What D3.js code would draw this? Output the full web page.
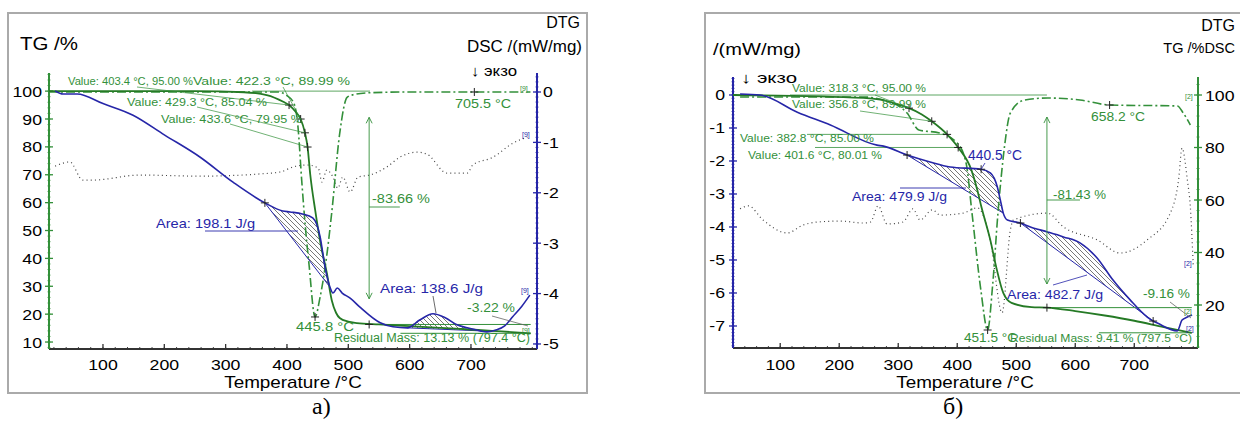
<!DOCTYPE html>
<html>
<head>
<meta charset="utf-8">
<script src="https://cdn.jsdelivr.net/npm/d3@7"></script>
<style>
body { margin: 0; background: #fff; }
svg text { font-family: "Liberation Sans", Arial, sans-serif; }
</style>
</head>
<body>
<script>
// ---- values: [temperature °C, value] ----
// panel a)
var tgA = [[12, 100], [250, 100], [330, 99.6], [367, 98.6], [394, 96.2], [403.4, 95], [414, 92.6], [422.3, 89.99],
    [429.3, 85.04], [433.6, 79.95], [438, 70], [446, 57.3], [455, 45], [465, 34.8], [473, 25], [480, 20.5],
    [486, 18.6], [500, 17.3], [514, 16.8], [550, 16.3], [600, 15.7], [650, 15.1], [700, 14.5], [750, 13.8], [797.4, 13.13]];
var dscA = [[22, 0.02], [35, -0.04], [58, -0.04], [100, -0.23], [149, -0.46], [200, -0.85], [258, -1.29], [312, -1.79],
    [364, -2.2], [393, -2.36], [405, -2.38], [425, -2.42], [442, -2.5], [454, -2.87], [462, -3.47], [470, -3.87],
    [475, -3.99], [482, -3.89], [490, -3.99], [503, -4.09], [519, -4.27], [552, -4.58], [573, -4.66], [596, -4.68],
    [617, -4.52], [638, -4.4], [658, -4.48], [677, -4.62], [694, -4.68], [715, -4.74], [726, -4.76], [742, -4.72],
    [755, -4.64], [768, -4.46], [783, -4.25], [796, -4.03]];
var dtgA = [[12, 0], [385, 0], [400, -0.4], [411, -1.2], [418, -3.9], [424, -9.8], [430, -15], [436, -19.2],
    [445.8, -25], [454, -22.8], [465, -18.1], [473, -13.4], [486, -4.6], [498, -0.6], [508, -0.3], [530, -0.1],
    [600, 0], [797, 0]];
var dotA = [[22, 73.1], [46, 74.6], [67, 68.1], [84, 68.1], [160, 69.9], [258, 69.5], [356, 70.3], [389, 71],
    [410, 72.8], [433, 73.5], [451, 72.4], [457, 67.4], [465, 71.7], [475, 69.2], [483, 65.2], [491, 69.2],
    [503, 63.8], [516, 69.2], [535, 69.9], [563, 72.8], [584, 76.3], [612, 78.1], [628, 77.4], [661, 70.6],
    [694, 70.6], [703, 73.5], [736, 76.3], [769, 81.4], [792, 83.5]];

// panel б)
var tgB = [[20, 100], [241, 98.9], [270, 98.2], [298, 96.5], [318.3, 95], [340, 92.6], [356.8, 89.99], [382.8, 85],
    [401.6, 80.01], [424, 71.4], [434, 63.8], [441, 57.3], [456, 44.8], [466, 34.5], [478, 24.6], [492, 20.8],
    [526, 19.2], [552, 19], [600, 17.7], [650, 16], [700, 14], [750, 11.6], [797.5, 9.41]];
var dscB = [[32, 0.03], [66, 0], [129, -0.52], [185, -0.91], [264, -1.52], [275, -1.55], [315, -1.82], [354, -2.03],
    [388, -2.18], [440.5, -2.25], [456, -2.36], [468, -2.79], [473, -3.18], [478, -3.58], [485, -3.79], [507, -3.88],
    [524, -4], [553, -4.15], [580, -4.3], [608, -4.48], [637, -4.94], [664, -5.61], [693, -6.21], [722, -6.73],
    [732, -6.85], [739, -6.91], [773, -7.15], [781, -6.82], [790, -6.73], [798, -6.67]];
var dtgB = [[32, -0.2], [241, -0.2], [280, -0.6], [315, -1.8], [335, -3.5], [370, -3.8], [400, -4.8], [415, -6.8],
    [425, -11.8], [440, -19.5], [451.5, -23.5], [460, -19], [469, -11.8], [474, -8.5], [480, -5.2], [490, -1.8],
    [514, -0.5], [553, -0.3], [608, -0.5], [658.2, -1], [773, -1.1], [783, -1.8], [795, -3]];
var dotB = [[32, -3.45], [46, -3.36], [71, -3.79], [112, -4.18], [139, -3.94], [163, -3.85], [202, -3.82],
    [241, -3.88], [253, -3.85], [266, -3.36], [281, -3.91], [308, -3.85], [325, -3.45], [337, -3.79], [358, -3.48],
    [371, -3.64], [410, -3.58], [434, -3.42], [456, -4.39], [476, -6.6], [490, -4.09], [495, -3.79], [553, -3.58],
    [580, -4], [637, -4.39], [676, -4.79], [722, -4.39], [761, -3.58], [775, -2.58], [781, -1.61], [790, -2.58],
    [795, -3.39], [800, -5.2]];

// tick labels
var tempTicks = [100, 200, 300, 400, 500, 600, 700];
var tgTicksA = [10, 20, 30, 40, 50, 60, 70, 80, 90, 100];
var dscTicksA = [0, -1, -2, -3, -4, -5];
var dscTicksB = [0, -1, -2, -3, -4, -5, -6, -7];
var tgTicksB = [20, 40, 60, 80, 100];

var GREEN = "#33903a", TGGREEN = "#257a25", BLUE = "#2626a8", DOT = "#444";

var svg = d3.select("body").append("svg")
    .attr("width", 1240)
    .attr("height", 426);

var defs = svg.append("defs");
defs.append("pattern")
    .attr("id", "hatch")
    .attr("patternUnits", "userSpaceOnUse")
    .attr("width", 5).attr("height", 5)
    .append("path")
    .attr("d", "M-1,-1L6,6M-1,4L1,6M4,-1L6,1")
    .attr("stroke", "#555").attr("stroke-width", 0.8);

function txt(g, x, y, s, o) {
    o = o || {};
    var t = g.append("text")
        .attr("transform", "translate(" + x + "," + y + ") scale(" + (o.sx || 1) + ",1)")
        .attr("font-size", o.size || 11.5)
        .attr("fill", o.fill || "#000")
        .attr("text-anchor", o.anchor || "start")
        .text(s);
    if (o.w) t.attr("textLength", o.w).attr("lengthAdjust", "spacingAndGlyphs");
    if (o.family) t.style("font-family", o.family);
    return t;
}
function line(g, x1, y1, x2, y2, color, w) {
    g.append("line").attr("x1", x1).attr("y1", y1).attr("x2", x2).attr("y2", y2)
        .attr("stroke", color).attr("stroke-width", w || 0.8);
}
function cross(g, x, y, color) {
    g.append("path").attr("d", "M" + (x - 4) + "," + y + "H" + (x + 4) + "M" + x + "," + (y - 4) + "V" + (y + 4))
        .attr("stroke", color || "#222").attr("stroke-width", 1);
}
function arrow(g, x, y1, y2, color) {
    line(g, x, y1, x, y2, color, 0.9);
    g.append("path").attr("d", "M" + (x - 3) + "," + (y1 + 6) + "L" + x + "," + y1 + "L" + (x + 3) + "," + (y1 + 6))
        .attr("fill", "none").attr("stroke", color).attr("stroke-width", 0.9);
    g.append("path").attr("d", "M" + (x - 3) + "," + (y2 - 6) + "L" + x + "," + y2 + "L" + (x + 3) + "," + (y2 - 6))
        .attr("fill", "none").attr("stroke", color).attr("stroke-width", 0.9);
}
function interp(data, t) {
    var i = d3.bisector(function (d) { return d[0]; }).left(data, t);
    if (i <= 0) return data[0][1];
    if (i >= data.length) return data[data.length - 1][1];
    var a = data[i - 1], b = data[i];
    return a[1] + (b[1] - a[1]) * (t - a[0]) / (b[0] - a[0]);
}
function vAxis(g, x, scale, ticks, minorStep, color, labelX, anchor) {
    var d = scale.domain();
    var r = scale.range();
    line(g, x, r[0], x, r[1], color, 2);
    var lo = Math.ceil(d[0] / minorStep), hi = Math.floor(d[1] / minorStep);
    for (var k = lo; k <= hi; k++) {
        var yy = scale(k * minorStep);
        line(g, x - 1.5, yy, x + 1.5, yy, color, 0.8);
    }
    ticks.forEach(function (v) {
        line(g, x - 4, scale(v), x + 4, scale(v), color, 1.3);
        txt(g, labelX, scale(v) + 5.5, String(v), {size: 15, sx: 1.18, anchor: anchor});
    });
}
function hAxis(g, y, scale, title, titleX) {
    var r = scale.range();
    line(g, r[0], y, r[1], y, "#333", 2);
    for (var t = 20; t <= 800; t += 20) {
        line(g, scale(t), y, scale(t), y - 2, "#333", 0.9);
    }
    tempTicks.forEach(function (t) {
        line(g, scale(t), y, scale(t), y - 5, "#333", 1.3);
        txt(g, scale(t), 370, String(t), {size: 15, sx: 1.18, anchor: "middle"});
    });
    txt(g, titleX, 388, title, {size: 16, sx: 1.18, anchor: "middle"});
}
function curve(g, data, x, y, color, w, dash) {
    var gen = d3.line().x(function (d) { return x(d[0]); }).y(function (d) { return y(d[1]); })
        .curve(d3.curveMonotoneX);
    var p = g.append("path").attr("d", gen(data)).attr("fill", "none")
        .attr("stroke", color).attr("stroke-width", w);
    if (dash) p.attr("stroke-dasharray", dash);
    return gen;
}
function hatch(g, data, t0, t1, x, y) {
    var sub = data.filter(function (d) { return d[0] >= t0 && d[0] <= t1; });
    var gen = d3.line().x(function (d) { return x(d[0]); }).y(function (d) { return y(d[1]); })
        .curve(d3.curveMonotoneX);
    g.append("path").attr("d", gen(sub) + "Z").attr("fill", "url(#hatch)").attr("stroke", "none");
    var a = sub[0], b = sub[sub.length - 1];
    line(g, x(a[0]), y(a[1]), x(b[0]), y(b[1]), BLUE, 1);
}

// ================= panel a) =================
var ga = svg.append("g");
ga.append("rect").attr("x", 8).attr("y", 13).attr("width", 579).attr("height", 380)
    .attr("fill", "none").attr("stroke", "#aaa").attr("stroke-width", 2);

var xA = d3.scaleLinear().domain([12, 808]).range([49, 537.2]);
var yTgA = d3.scaleLinear().domain([7.5, 106.5]).range([349, 73]);
var yDscA = d3.scaleLinear().domain([-5.1, 0.377]).range([349, 73]);
var yDtgA = d3.scaleLinear().domain([-28.56, 2.11]).range([349, 73]);

hAxis(ga, 349, xA, "Temperature /°C", 293);
vAxis(ga, 49, yTgA, tgTicksA, 2, GREEN, 42, "end");
vAxis(ga, 537, yDscA, dscTicksA, 0.1, BLUE, 543, "start");

txt(ga, 20, 50, "TG /%", {size: 18, w: 58});
txt(ga, 580, 28, "DTG", {size: 16, anchor: "end"});
txt(ga, 467, 52, "DSC /(mW/mg)", {size: 16, w: 115});
txt(ga, 471, 76, "↓ экзо", {size: 15, w: 46});

// hatched peak areas
hatch(ga, dscA, 364, 470, xA, yDscA);
hatch(ga, dscA, 596, 715, xA, yDscA);

// reference lines of the annotations
line(ga, 252, yTgA(100), 370, yTgA(100), GREEN, 0.8);
line(ga, xA(534), yTgA(16.3), xA(797.4), yTgA(16.3), GREEN, 1);
line(ga, xA(585), yTgA(13.13), xA(797.4), yTgA(13.13), GREEN, 1);

curve(ga, dotA, xA, yTgA, DOT, 1.2, "1,3.2");
curve(ga, dtgA, xA, yDtgA, GREEN, 1.6, "9,3,2,3");
curve(ga, tgA, xA, yTgA, TGGREEN, 1.8);
curve(ga, dscA, xA, yDscA, BLUE, 1.6);

// mass-loss step
arrow(ga, xA(534), yTgA(90.6), yTgA(25.5), GREEN);
line(ga, xA(534), 207, xA(584), 207, GREEN, 0.9);
txt(ga, 372, 203, "-83.66 %", {size: 13, fill: GREEN, w: 58});

// value markers on TG
var valuesA = [[403.4, 95.00], [422.3, 89.99], [429.3, 85.04], [433.6, 79.95]];
valuesA.forEach(function (v) { cross(ga, xA(v[0]), yTgA(v[1])); });
line(ga, 137, 87, xA(403.4), yTgA(95), GREEN, 0.7);
line(ga, 283, 87, xA(422.3), yTgA(89.99), GREEN, 0.7);
line(ga, 197, 107, xA(429.3), yTgA(85.04), GREEN, 0.7);
line(ga, 230, 124, xA(433.6), yTgA(79.95), GREEN, 0.7);
txt(ga, 68, 85, "Value: 403.4 °C, 95.00 %", {fill: GREEN, w: 125});
txt(ga, 193, 85, "Value: 422.3 °C, 89.99 %", {fill: GREEN, w: 157});
txt(ga, 127, 106, "Value: 429.3 °C, 85.04 %", {fill: GREEN, w: 140});
txt(ga, 161, 123, "Value: 433.6 °C, 79.95 %", {fill: GREEN, w: 141});

cross(ga, xA(364), yDscA(interp(dscA, 364)), "#222");
cross(ga, xA(445.8), yDtgA(-25), "#222");
cross(ga, xA(705.5), yDtgA(0), "#222");
cross(ga, xA(534), yTgA(16.3), "#222");
txt(ga, 455, 108, "705.5 °C", {size: 13, fill: GREEN, w: 56});
txt(ga, 296, 331, "445.8 °C", {size: 13.5, fill: GREEN, w: 58});

line(ga, 205, 231, 298, 231, BLUE, 0.9);
txt(ga, 156, 228, "Area: 198.1 J/g", {size: 13, fill: BLUE, w: 99});
line(ga, 433, 296, 436, 313, "#444", 0.8);
txt(ga, 380, 293, "Area: 138.6 J/g", {size: 13.5, fill: BLUE, w: 103});

line(ga, 492, 316, 528, 326, "#666", 0.8);
txt(ga, 467, 312, "-3.22 %", {size: 13, fill: GREEN, w: 48});
txt(ga, 334, 342, "Residual Mass: 13.13 % (797.4 °C)", {size: 12, fill: GREEN, w: 196});

txt(ga, 520, 91, "[9]", {size: 7, fill: GREEN});
txt(ga, 522, 137, "[9]", {size: 7, fill: BLUE});
txt(ga, 521, 293, "[9]", {size: 7, fill: BLUE});
txt(ga, 522, 333, "[9]", {size: 7, fill: GREEN});

txt(ga, 312, 414, "a)", {size: 24, family: "'Liberation Serif', 'DejaVu Serif', serif"});

// ================= panel б) =================
var gb = svg.append("g");
gb.append("rect").attr("x", 705).attr("y", 13).attr("width", 560).attr("height", 380)
    .attr("fill", "none").attr("stroke", "#aaa").attr("stroke-width", 2);

var xB = d3.scaleLinear().domain([20, 808]).range([733, 1198]);
var yDscB = d3.scaleLinear().domain([-7.667, 0.545]).range([348, 77]);
var yTgB = d3.scaleLinear().domain([3.62, 106.86]).range([348, 77]);
var yDtgB = d3.scaleLinear().domain([-25.3, 1.8]).range([348, 77]);

hAxis(gb, 348, xB, "Temperature /°C", 965);
vAxis(gb, 733, yDscB, dscTicksB, 0.1, BLUE, 725, "end");
vAxis(gb, 1198, yTgB, tgTicksB, 4, GREEN, 1205, "start");

txt(gb, 713, 55, "/(mW/mg)", {size: 16, w: 88});
txt(gb, 1235, 31, "DTG", {size: 16, anchor: "end"});
txt(gb, 1235, 53, "TG /%DSC", {size: 14.5, anchor: "end"});
txt(gb, 741, 83, "↓ экзо", {size: 15, w: 56});

hatch(gb, dscB, 315, 478, xB, yDscB);
hatch(gb, dscB, 507, 732, xB, yDscB);

line(gb, 790, yTgB(100), xB(552), yTgB(100), GREEN, 0.8);
line(gb, 807, yTgB(85), xB(382.8), yTgB(85), GREEN, 0.8);
line(gb, 815, yTgB(80.01), xB(401.6), yTgB(80.01), GREEN, 0.8);
line(gb, xB(552), yTgB(19), xB(797.5), yTgB(19), GREEN, 1);
line(gb, xB(640), yTgB(9.41), xB(797.5), yTgB(9.41), GREEN, 1);

curve(gb, dotB, xB, yDscB, DOT, 1.2, "1,3.2");
curve(gb, dtgB, xB, yDtgB, GREEN, 1.6, "9,3,2,3");
curve(gb, tgB, xB, yTgB, TGGREEN, 1.8);
curve(gb, dscB, xB, yDscB, BLUE, 1.6);

arrow(gb, xB(552), yTgB(91.6), yTgB(28), GREEN);
line(gb, xB(552), 200, xB(608), 200, GREEN, 0.9);
txt(gb, 1053, 199, "-81.43 %", {size: 13, fill: GREEN, w: 53});

var valuesB = [[318.3, 95.00], [356.8, 89.99], [382.8, 85.00], [401.6, 80.01]];
valuesB.forEach(function (v) { cross(gb, xB(v[0]), yTgB(v[1])); });
line(gb, 875, 95, xB(318.3), yTgB(95), GREEN, 0.7);
line(gb, 860, 111, xB(356.8), yTgB(89.99), GREEN, 0.7);
txt(gb, 792, 92, "Value: 318.3 °C, 95.00 %", {fill: GREEN, w: 134});
txt(gb, 792, 108, "Value: 356.8 °C, 89.99 %", {fill: GREEN, w: 134});
txt(gb, 740, 142, "Value: 382.8 °C, 85.00 %", {fill: GREEN, w: 134});
txt(gb, 748, 159, "Value: 401.6 °C, 80.01 %", {fill: GREEN, w: 134});

[315, 440.5, 507, 732].forEach(function (t) { cross(gb, xB(t), yDscB(interp(dscB, t)), "#222"); });
cross(gb, xB(451.5), yDtgB(-23.5), "#222");
cross(gb, xB(658.2), yDtgB(-1), "#222");
cross(gb, xB(552), yTgB(19), "#222");

line(gb, 985, 163, xB(440.5), yDscB(-2.25), BLUE, 0.8);
txt(gb, 968, 160, "440.5 °C", {size: 14, fill: BLUE, w: 54});
line(gb, 900, 188, 966, 188, BLUE, 0.9);
txt(gb, 852, 201, "Area: 479.9 J/g", {size: 13.5, fill: BLUE, w: 95});
txt(gb, 1091, 121, "658.2 °C", {size: 13, fill: GREEN, w: 54});
line(gb, 1053, 285, 1087, 275, BLUE, 0.8);
txt(gb, 1007, 299, "Area: 482.7 J/g", {size: 13.5, fill: BLUE, w: 96});
line(gb, 1170, 302, 1191, 318, "#666", 0.8);
txt(gb, 1143, 298, "-9.16 %", {size: 13, fill: GREEN, w: 47});
txt(gb, 964, 342, "451.5 °C", {size: 13, fill: GREEN, w: 53});
txt(gb, 1010, 342, "Residual Mass: 9.41 % (797.5 °C)", {size: 11.5, fill: GREEN, w: 182});

txt(gb, 1185, 99, "[2]", {size: 7, fill: GREEN});
txt(gb, 1184, 266, "[2]", {size: 7, fill: BLUE});
txt(gb, 1184, 314, "[2]", {size: 7, fill: GREEN});
txt(gb, 1186, 331, "[2]", {size: 7, fill: BLUE});

txt(gb, 943, 414, "б)", {size: 24, family: "'Liberation Serif', 'DejaVu Serif', serif"});
</script>
</body>
</html>
